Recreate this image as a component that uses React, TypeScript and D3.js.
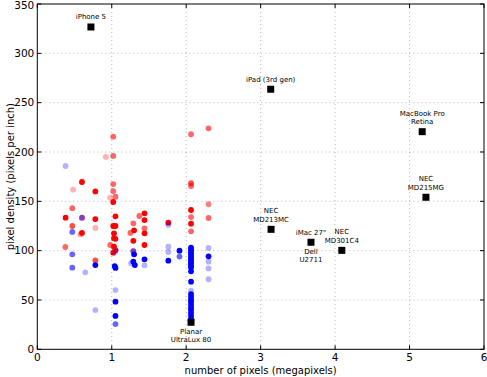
import React from "react";
import * as d3 from "d3";

const W = 487;
const H = 377;

// [megapixels, ppi, alpha]
const redPoints: [number, number, number][] = [
  [0.38, 133.4, 1], [0.376, 103.7, 0.6], [0.47, 143, 0.6], [0.48, 161.8, 0.3],
  [0.47, 125, 0.7], [0.6, 169.6, 1], [0.6, 133.4, 0.5], [0.6, 118, 1],
  [0.58, 116.5, 0.4], [0.78, 160, 1], [0.78, 132, 1], [0.78, 123, 0.3],
  [0.78, 90.2, 0.7], [0.92, 195, 0.3], [1.02, 215.5, 0.6], [1.02, 196, 0.6],
  [1.02, 167.5, 0.6], [1.02, 160.4, 0.6], [0.977, 153.7, 0.3], [1.05, 154.7, 0.6],
  [1.02, 149.3, 1], [1.05, 134.8, 1], [1.02, 125, 1], [1.05, 125, 1],
  [1.03, 117.6, 1], [1.03, 112.5, 1], [1.05, 112, 1], [0.98, 105.7, 0.6],
  [1.03, 104, 1], [1.05, 100.6, 1], [1.02, 97.9, 1], [1.29, 127.7, 0.6],
  [1.3, 120.6, 1], [1.25, 118, 0.6], [1.29, 110, 1], [1.29, 99.6, 0.5],
  [1.37, 135.1, 0.6], [1.44, 137.8, 1], [1.44, 131, 1], [1.44, 122.6, 0.6],
  [1.44, 117.6, 1], [1.44, 105.7, 1], [1.76, 128.3, 1], [2.3, 224, 0.6],
  [2.065, 218, 0.6], [2.065, 168.3, 0.7], [2.065, 165.5, 0.6], [2.3, 147, 0.5],
  [2.065, 141.2, 1], [2.065, 134, 0.6], [2.065, 127.3, 1], [2.3, 133.1, 0.6],
  [2.065, 119.6, 0.6],
];

const bluePoints: [number, number, number][] = [
  [0.38, 185.8, 0.3], [0.47, 119, 0.6], [0.6, 133.4, 0.5], [0.47, 96.3, 0.6],
  [0.47, 82.7, 0.6], [0.645, 78, 0.3], [0.78, 85.4, 1], [0.78, 39.8, 0.3],
  [1.05, 99, 0.3], [1.04, 84.4, 1], [1.05, 82.5, 1], [1.05, 60, 0.3],
  [1.05, 48.3, 1], [1.05, 33.8, 1], [1.05, 25.6, 0.6], [1.29, 99.6, 0.5],
  [1.3, 96.3, 1], [1.26, 87.2, 0.3], [1.29, 88.8, 1], [1.31, 85.4, 1],
  [1.44, 91.2, 1], [1.44, 85.1, 0.3], [1.76, 126, 0.3], [1.76, 104, 0.3],
  [1.76, 98.6, 0.3], [1.76, 89.8, 1], [1.91, 100, 1], [1.91, 94, 0.6],
  [2.065, 103, 1], [2.065, 101, 1], [2.065, 99, 1], [2.065, 97, 1],
  [2.065, 95, 1], [2.065, 93, 1], [2.065, 91, 1], [2.065, 89, 1],
  [2.065, 87, 1], [2.065, 85, 1], [2.065, 83, 1], [2.065, 79, 1],
  [2.065, 68.5, 1], [2.065, 59.4, 0.3], [2.065, 56, 1], [2.065, 53, 1],
  [2.065, 50, 1], [2.065, 48, 1], [2.065, 45, 1], [2.065, 42, 1],
  [2.065, 40, 1], [2.065, 37, 1], [2.065, 34, 1], [2.065, 31, 1],
  [2.3, 102.7, 0.3], [2.3, 94.2, 1], [2.3, 88.8, 0.3], [2.3, 82, 0.3],
  [2.3, 71, 0.3],
];

// labelled devices: name lines, megapixels, ppi, label placement
const deviceNames: string[][] = [
  ["iPhone 5"], ["iPad (3rd gen)"], ["MacBook Pro", "Retina"], ["NEC", "MD215MG"],
  ["NEC", "MD213MC"], ["iMac 27\""], ["Dell", "U2711"], ["NEC", "MD301C4"],
  ["Planar", "UltraLux 80"],
];
const deviceX = [0.72, 3.135, 5.17, 5.22, 3.14, 3.676, 3.676, 4.09, 2.065];
const deviceY = [326.7, 263.6, 220.6, 154.1, 121.6, 108.5, 108.5, 100.3, 27.4];
const devicePlace = ["above", "above", "above", "above", "above", "above", "below", "above", "below"];

const xTicks = [0, 1, 2, 3, 4, 5, 6];
const yTicks = [0, 50, 100, 150, 200, 250, 300, 350];

export default function App() {
  const left = 37.3, right = 484, top = 4, bottom = 349.3;
  const x = d3.scaleLinear().domain([0, 6]).range([left, right]);
  const y = d3.scaleLinear().domain([0, 350]).range([bottom, top]);
  const font = "DejaVu Sans, sans-serif";
  const tl = 4;
  const r = 2.9;

  return (
    <svg width={W} height={H} style={{ position: "absolute", left: 0, top: 0, background: "#fff" }}>
      <rect x={0} y={0} width={W} height={H} fill="#fff" />
      {/* grid */}
      {xTicks.slice(1, -1).map((t) => (
        <line key={"gx" + t} x1={x(t)} x2={x(t)} y1={top} y2={bottom} stroke="#000" strokeOpacity={0.35} strokeWidth={0.8} strokeDasharray="1,3" />
      ))}
      {yTicks.slice(1, -1).map((t) => (
        <line key={"gy" + t} x1={left} x2={right} y1={y(t)} y2={y(t)} stroke="#000" strokeOpacity={0.35} strokeWidth={0.8} strokeDasharray="1,3" />
      ))}
      {/* points */}
      {redPoints.map((p, i) => (
        <circle key={"r" + i} cx={x(p[0])} cy={y(p[1])} r={r} fill="#ff0000" fillOpacity={p[2]} />
      ))}
      {bluePoints.map((p, i) => (
        <circle key={"b" + i} cx={x(p[0])} cy={y(p[1])} r={r} fill="#0000ff" fillOpacity={p[2]} />
      ))}
      {/* devices */}
      {deviceNames.map((lines, i) => {
        const cx = x(deviceX[i]);
        const cy = y(deviceY[i]);
        const above = devicePlace[i] === "above";
        const offs = above
          ? lines.length === 2 ? [-18.5, -10] : [-10]
          : [9.2, 17.6];
        return (
          <g key={"d" + i}>
            {(i !== 6) && <rect x={cx - 3.5} y={cy - 3.5} width={7} height={7} fill="#000" />}
            {lines.map((ln, j) => (
              <text key={j} x={cx} y={cy + offs[j]} dy="0.35em" textAnchor="middle" fontFamily={font} fontSize={7} fill="#000">
                {ln}
              </text>
            ))}
          </g>
        );
      })}
      {/* frame */}
      <rect x={left} y={top} width={right - left} height={bottom - top} fill="none" stroke="#000" strokeWidth={1} />
      {/* ticks */}
      {xTicks.map((t) => (
        <g key={"xt" + t}>
          <line x1={x(t)} x2={x(t)} y1={bottom} y2={bottom - tl} stroke="#000" />
          <line x1={x(t)} x2={x(t)} y1={top} y2={top + tl} stroke="#000" />
          <text x={x(t)} y={357} dy="0.35em" textAnchor="middle" fontFamily={font} fontSize={10.5}>{t}</text>
        </g>
      ))}
      {yTicks.map((t) => (
        <g key={"yt" + t}>
          <line x1={left} x2={left + tl} y1={y(t)} y2={y(t)} stroke="#000" />
          <line x1={right} x2={right - tl} y1={y(t)} y2={y(t)} stroke="#000" />
          <text x={left - 3} y={Math.max(y(t), 5.5)} dy="0.35em" textAnchor="end" fontFamily={font} fontSize={10.5}>{t}</text>
        </g>
      ))}
      <text x={(left + right) / 2} y={370.5} dy="0.35em" textAnchor="middle" fontFamily={font} fontSize={10}>
        number of pixels (megapixels)
      </text>
      <text transform={`translate(10,${(top + bottom) / 2}) rotate(-90)`} dy="0.35em" textAnchor="middle" fontFamily={font} fontSize={10}>
        pixel density (pixels per inch)
      </text>
    </svg>
  );
}
